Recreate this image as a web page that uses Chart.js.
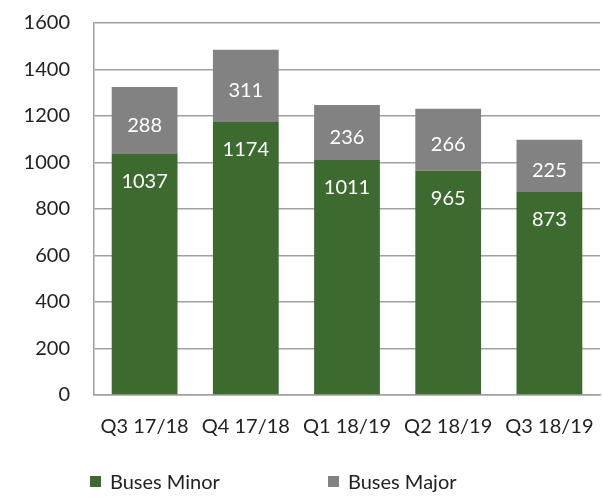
<!DOCTYPE html>
<html>
<head>
<meta charset="utf-8">
<script src="https://cdn.jsdelivr.net/npm/chart.js@4"></script>
<style>
  html, body { margin: 0; padding: 0; background: #fff; }
  #wrap { width: 602px; height: 500px; }
</style>
</head>
<body>
<div id="wrap"><canvas id="busChart" width="602" height="500"></canvas></div>
<script>
// data
const quarters = ['Q3 17/18', 'Q4 17/18', 'Q1 18/19', 'Q2 18/19', 'Q3 18/19'];
const busesMinor = [1037, 1174, 1011, 965, 873];
const busesMajor = [288, 311, 236, 266, 225];
const yTicks = [0, 200, 400, 600, 800, 1000, 1200, 1400, 1600];

const GREEN = '#3d6a2f';
const GREY = '#828282';
const FONT = 'Lato, "DejaVu Sans", sans-serif';

// white value labels inside the bar segments
const valueLabels = {
    id: 'valueLabels',
    afterDatasetsDraw(chart) {
        const ctx = chart.ctx;
        ctx.save();
        ctx.fillStyle = '#ffffff';
        ctx.font = '20px ' + FONT;
        ctx.textAlign = 'center';
        ctx.textBaseline = 'middle';
        chart.data.datasets.forEach((ds, i) => {
            chart.getDatasetMeta(i).data.forEach((bar, j) => {
                let y;
                if (i === 0) {
                    y = bar.y + 28;           // near top of green segment
                } else {
                    y = (bar.y + bar.base) / 2 + 5;  // middle of grey segment
                }
                ctx.fillText(String(ds.data[j]), bar.x, y);
            });
        });
        ctx.restore();
    }
};

// legend drawn by hand so the items sit where the reference has them
const bottomLegend = {
    id: 'bottomLegend',
    afterDraw(chart) {
        const ctx = chart.ctx;
        const spots = [90, 328];
        ctx.save();
        ctx.font = '20px ' + FONT;
        ctx.textBaseline = 'middle';
        chart.data.datasets.forEach((ds, i) => {
            const x = spots[i];
            ctx.fillStyle = ds.backgroundColor;
            ctx.fillRect(x, 476, 11, 11);
            ctx.fillStyle = '#222222';
            ctx.fillText(ds.label, x + 20, 483);
        });
        ctx.restore();
    }
};

new Chart(document.getElementById('busChart'), {
    type: 'bar',
    data: {
        labels: quarters,
        datasets: [
            { label: 'Buses Minor', data: busesMinor, backgroundColor: GREEN },
            { label: 'Buses Major', data: busesMajor, backgroundColor: GREY }
        ]
    },
    options: {
        responsive: false,
        animation: false,
        layout: { padding: { top: 23, right: 2, left: 0, bottom: 0 } },
        datasets: { bar: { categoryPercentage: 1, barPercentage: 0.65 } },
        plugins: {
            legend: { display: false },
            tooltip: { enabled: false }
        },
        scales: {
            x: {
                stacked: true,
                grid: { display: false, drawTicks: false },
                border: { color: '#a0a0a0', width: 1.5 },
                ticks: { color: '#222222', font: { family: FONT, size: 20 }, padding: 20, maxRotation: 0 },
                afterFit(scale) {
                    scale.height = 105;
                    scale.paddingLeft = 0;
                    scale.paddingRight = 0;
                }
            },
            y: {
                stacked: true,
                min: 0,
                max: 1600,
                afterBuildTicks(scale) { scale.ticks = yTicks.map(v => ({ value: v })); },
                grid: { color: '#a0a0a0', lineWidth: 1.5, drawTicks: false },
                border: { color: '#a0a0a0', width: 1.5 },
                ticks: {
                    color: '#222222',
                    font: { family: FONT, size: 20 },
                    padding: 24,
                    callback: v => String(v)
                },
                afterFit(scale) {
                    scale.width = 94;
                    scale.paddingTop = 0;
                    scale.paddingBottom = 0;
                }
            }
        }
    },
    plugins: [valueLabels, bottomLegend]
});
</script>
</body>
</html>
